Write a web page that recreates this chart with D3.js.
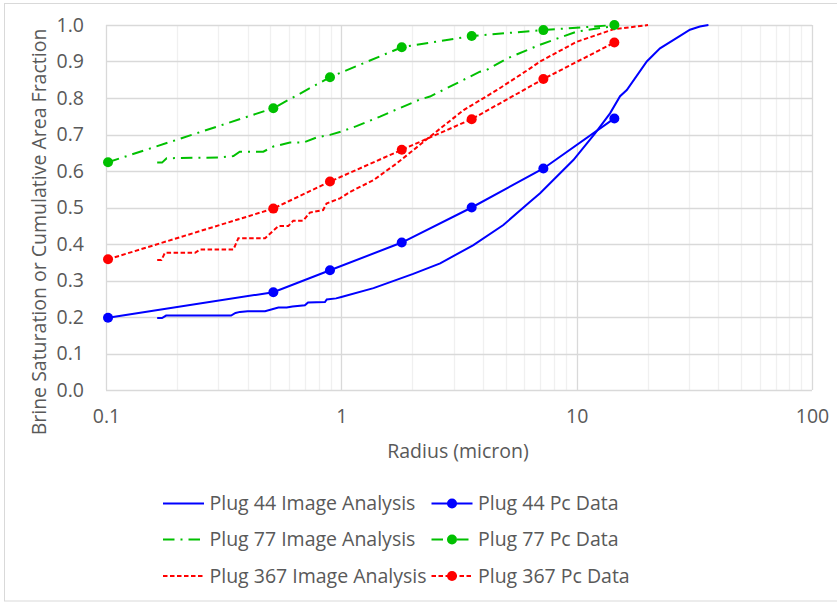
<!DOCTYPE html>
<html>
<head>
<meta charset="utf-8">
<script src="https://cdn.jsdelivr.net/npm/d3@7"></script>
<style>
  html, body { margin: 0; padding: 0; background: #fff; }
  svg { display: block; }
  text { font-family: "Open Sans", "Noto Sans", sans-serif; fill: #595959; }
</style>
</head>
<body>
<svg id="chart" width="837" height="605"></svg>
<script>
// ---------- data ----------
const xTicks = [0.1, 1, 10, 100];
const yTicks = [0, 0.1, 0.2, 0.3, 0.4, 0.5, 0.6, 0.7, 0.8, 0.9, 1.0];

const pcRadius = [0.102, 0.514, 0.895, 1.806, 3.58, 7.22, 14.46];
const plug44Pc  = [0.198, 0.268, 0.328, 0.404, 0.500, 0.607, 0.744];
const plug77Pc  = [0.624, 0.772, 0.857, 0.939, 0.970, 0.986, 1.000];
const plug367Pc = [0.358, 0.497, 0.571, 0.658, 0.742, 0.852, 0.952];

const plug44Image = [
  [0.165,0.197],[0.173,0.197],[0.180,0.204],[0.34,0.204],[0.355,0.211],[0.371,0.214],[0.40,0.216],
  [0.474,0.216],[0.54,0.226],[0.586,0.226],[0.62,0.229],[0.70,0.232],[0.722,0.240],[0.852,0.241],
  [0.867,0.248],[0.95,0.251],[1.0,0.255],[1.37,0.279],[2.02,0.318],[2.63,0.347],[3.64,0.397],
  [4.88,0.452],[6.34,0.516],[6.99,0.539],[9.68,0.630],[11.97,0.703],[13.86,0.758],[15.29,0.805],
  [16.33,0.822],[19.86,0.900],[22.6,0.936],[27.5,0.970],[30.3,0.987],[33.4,0.996],[36.3,1.0]
];
const plug77Image = [
  [0.165,0.623],[0.173,0.623],[0.181,0.635],[0.30,0.637],[0.348,0.641],[0.37,0.653],[0.466,0.653],
  [0.514,0.667],[0.605,0.678],[0.69,0.678],[0.786,0.692],[0.895,0.699],[1.02,0.710],[1.16,0.723],
  [1.46,0.749],[1.78,0.773],[2.16,0.796],[2.38,0.804],[3.88,0.872],[4.15,0.877],[5.05,0.908],
  [6.99,0.946],[10.0,0.982],[14.3,0.997],[15.0,1.0]
];
const plug367Image = [
  [0.165,0.356],[0.172,0.356],[0.178,0.376],[0.239,0.376],[0.251,0.385],[0.348,0.385],[0.365,0.416],
  [0.474,0.416],[0.54,0.449],[0.595,0.449],[0.625,0.464],[0.689,0.464],[0.735,0.486],[0.837,0.493],
  [0.865,0.511],[0.987,0.525],[1.09,0.543],[1.37,0.575],[1.72,0.621],[2.38,0.694],[3.31,0.767],
  [4.59,0.822],[6.34,0.881],[6.99,0.900],[10.0,0.954],[14.3,0.988],[20.1,1.0]
];

const seriesNames = [
  "Plug 44 Image Analysis", "Plug 44 Pc Data",
  "Plug 77 Image Analysis", "Plug 77 Pc Data",
  "Plug 367 Image Analysis", "Plug 367 Pc Data"
];

// ---------- styles ----------
const BLUE = "#0000ff", GREEN = "#00c000", RED = "#ff0000";
const DASHDOT = "11.5,6,2,6", DASH = "4.5,2.5";
const FS = 19.5;

const svg = d3.select("#chart");
const L = 106, R = 812, T = 25, B = 390;

const x = d3.scaleLog().domain([0.1, 100]).range([L, R]);
const y = d3.scaleLinear().domain([0, 1]).range([B, T]);

// outer border
svg.append("rect").attr("x", 4.5).attr("y", 3.5).attr("width", 840).attr("height", 597.5)
  .attr("fill", "none").attr("stroke", "#d9d9d9").attr("stroke-width", 1);

// minor vertical grid
const minor = [];
for (let d = 0.1; d < 100; d *= 10) for (let k = 2; k <= 9; k++) minor.push(d * k);
svg.append("g").selectAll("line").data(minor).join("line")
  .attr("x1", d => Math.round(x(d)) + 0.5).attr("x2", d => Math.round(x(d)) + 0.5)
  .attr("y1", T).attr("y2", B).attr("stroke", "#f0f0f0").attr("stroke-width", 1.3);

// major horizontal grid
svg.append("g").selectAll("line").data(yTicks).join("line")
  .attr("x1", L).attr("x2", R)
  .attr("y1", d => Math.round(y(d)) + 0.5).attr("y2", d => Math.round(y(d)) + 0.5)
  .attr("stroke", "#d9d9d9").attr("stroke-width", 1.3);

// major vertical grid
svg.append("g").selectAll("line").data(xTicks).join("line")
  .attr("x1", d => Math.round(x(d)) + 0.5).attr("x2", d => Math.round(x(d)) + 0.5)
  .attr("y1", T).attr("y2", B).attr("stroke", "#d9d9d9").attr("stroke-width", 1.3);

// axes (labels only, via d3 axis)
const xAxis = svg.append("g").attr("transform", `translate(0,${B})`)
  .call(d3.axisBottom(x).tickValues(xTicks).tickFormat(d3.format("~g")).tickSize(0).tickPadding(19));
xAxis.select(".domain").remove();
xAxis.selectAll("text").attr("font-size", FS).attr("fill", "#595959")
  .style("font-family", '"Open Sans", sans-serif');

const yAxis = svg.append("g").attr("transform", `translate(${L},0)`)
  .call(d3.axisLeft(y).tickValues(yTicks).tickFormat(d3.format(".1f")).tickSize(0).tickPadding(22));
yAxis.select(".domain").remove();
yAxis.selectAll("text").attr("font-size", FS).attr("fill", "#595959")
  .style("font-family", '"Open Sans", sans-serif');

// axis titles
svg.append("text").attr("x", (L + R) / 2 - 1).attr("y", 458).attr("text-anchor", "middle")
  .attr("font-size", FS).text("Radius (micron)");
svg.append("text").attr("transform", `translate(46,232) rotate(-90)`).attr("text-anchor", "middle")
  .attr("font-size", FS).text("Brine Saturation or Cumulative Area Fraction");

// series
const line = d3.line().x(d => x(d[0])).y(d => y(d[1]));
const plot = svg.append("g");

function imageSeries(data, color, dash) {
  plot.append("path").datum(data).attr("d", line).attr("fill", "none")
    .attr("stroke", color).attr("stroke-width", 2).attr("stroke-dasharray", dash);
}
function pcSeries(vals, color, dash) {
  const data = pcRadius.map((r, i) => [r, vals[i]]);
  plot.append("path").datum(data).attr("d", line).attr("fill", "none")
    .attr("stroke", color).attr("stroke-width", 2).attr("stroke-dasharray", dash);
  plot.append("g").selectAll("circle").data(data).join("circle")
    .attr("cx", d => x(d[0])).attr("cy", d => y(d[1])).attr("r", 5).attr("fill", color);
}

imageSeries(plug44Image, BLUE, null);
imageSeries(plug77Image, GREEN, DASHDOT);
imageSeries(plug367Image, RED, DASH);
pcSeries(plug44Pc, BLUE, null);
pcSeries(plug77Pc, GREEN, DASHDOT);
pcSeries(plug367Pc, RED, DASH);

// legend
const legend = [
  { name: seriesNames[0], color: BLUE, dash: null, marker: false, col: 0, row: 0 },
  { name: seriesNames[1], color: BLUE, dash: null, marker: true, col: 1, row: 0 },
  { name: seriesNames[2], color: GREEN, dash: DASHDOT, marker: false, col: 0, row: 1 },
  { name: seriesNames[3], color: GREEN, dash: DASHDOT, marker: true, col: 1, row: 1 },
  { name: seriesNames[4], color: RED, dash: DASH, marker: false, col: 0, row: 2 },
  { name: seriesNames[5], color: RED, dash: DASH, marker: true, col: 1, row: 2 }
];
const colX = [163, 431.5], rowY = [503.5, 539.5, 576];
const lg = svg.append("g");
legend.forEach(d => {
  const g = lg.append("g").attr("transform", `translate(${colX[d.col]},${rowY[d.row]})`);
  g.append("line").attr("x1", 0).attr("x2", 41).attr("y1", 0).attr("y2", 0)
    .attr("stroke", d.color).attr("stroke-width", 2).attr("stroke-dasharray", d.dash);
  if (d.marker) g.append("circle").attr("cx", 20.5).attr("cy", 0).attr("r", 5).attr("fill", d.color);
  g.append("text").attr("x", 46.5).attr("y", 0).attr("dy", "0.35em").attr("font-size", FS).text(d.name);
});
</script>
</body>
</html>
